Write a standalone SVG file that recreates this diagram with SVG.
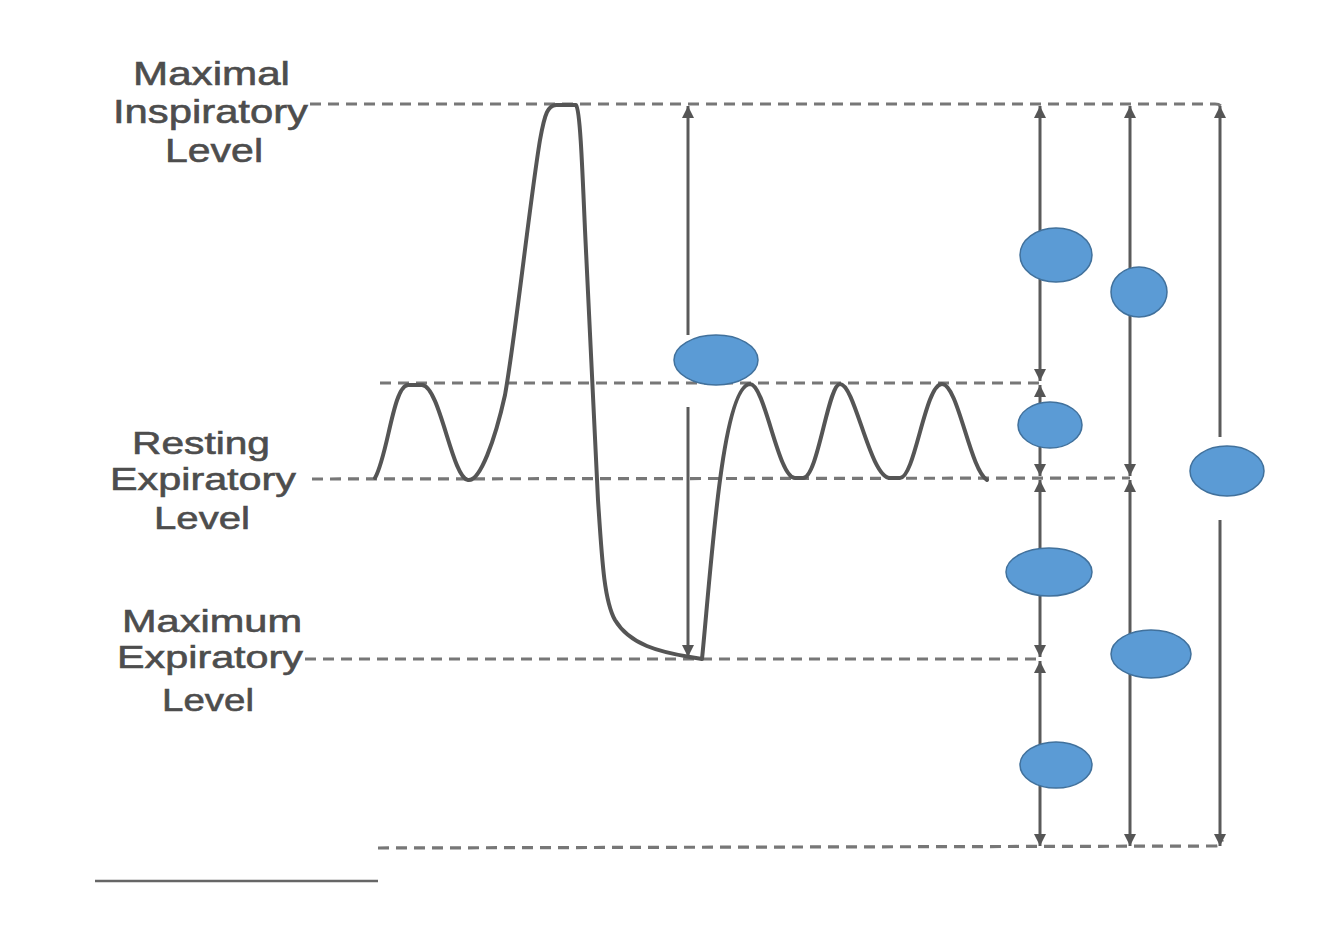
<svg xmlns="http://www.w3.org/2000/svg" width="1334" height="936" viewBox="0 0 1334 936">
<defs>
<marker id="ah" viewBox="0 0 10 10" refX="10" refY="5" markerWidth="13" markerHeight="12" markerUnits="userSpaceOnUse" orient="auto-start-reverse">
<path d="M0,0 L10,5 L0,10 z" fill="#555"/>
</marker>
<style>
.lbl{font-family:"Liberation Sans",Arial,sans-serif;fill:#4d4d4d;stroke:#4d4d4d;stroke-width:0.6}
.dash{stroke:#777;stroke-width:3.2;stroke-dasharray:11 7;fill:none}
.arr{stroke:#5a5a5a;stroke-width:3;fill:none;marker-end:url(#ah)}
.arr2{stroke:#5a5a5a;stroke-width:3;fill:none;marker-start:url(#ah);marker-end:url(#ah)}
.curve{stroke:#555;stroke-width:4;fill:none;stroke-linejoin:round;stroke-linecap:round}
.bub{fill:#5B9BD5;stroke:#41719C;stroke-width:1.5}
</style>
</defs>
<rect width="1334" height="936" fill="#fff"/>

<g id="labels">
<g id="mil-label" font-size="34">
<text class="lbl" x="133" y="85" textLength="157" lengthAdjust="spacingAndGlyphs">Maximal</text>
<text class="lbl" x="113" y="123" textLength="195" lengthAdjust="spacingAndGlyphs">Inspiratory</text>
<text class="lbl" x="165" y="162" textLength="98" lengthAdjust="spacingAndGlyphs">Level</text>
</g>
<g id="rel-label" font-size="32">
<text class="lbl" x="132" y="454" textLength="138" lengthAdjust="spacingAndGlyphs">Resting</text>
<text class="lbl" x="110" y="490" textLength="186" lengthAdjust="spacingAndGlyphs">Expiratory</text>
<text class="lbl" x="154" y="529" textLength="96" lengthAdjust="spacingAndGlyphs">Level</text>
</g>
<g id="mel-label" font-size="32">
<text class="lbl" x="122" y="632" textLength="180" lengthAdjust="spacingAndGlyphs">Maximum</text>
<text class="lbl" x="117" y="668" textLength="186" lengthAdjust="spacingAndGlyphs">Expiratory</text>
<text class="lbl" x="162" y="711" textLength="92" lengthAdjust="spacingAndGlyphs">Level</text>
</g>
</g>

<g id="levels">
<path class="dash" d="M310,104 L1215,104 Q1222,104 1222,110"/>
<path class="dash" d="M380,383 L1040,383"/>
<path class="dash" d="M312,479 L1130,478"/>
<path class="dash" d="M305,659 L1040,659"/>
<path class="dash" d="M378,848 L1215,846 Q1222,846 1222,840"/>
<path d="M95,881 L378,881" stroke="#666" stroke-width="2.5"/>
</g>

<g id="connectors">
<path class="arr" d="M688,335 L688,106"/>
<path class="arr" d="M688,407 L688,657"/>
<path class="arr2" d="M1040,106 L1040,381"/>
<path class="arr2" d="M1040,385 L1040,476"/>
<path class="arr2" d="M1040,480 L1040,657"/>
<path class="arr2" d="M1040,661 L1040,846"/>
<path class="arr2" d="M1130,106 L1130,476"/>
<path class="arr2" d="M1130,480 L1130,846"/>
<path class="arr" d="M1220,437 L1220,106"/>
<path class="arr" d="M1220,520 L1220,846"/>
</g>

<g id="spirogram">
<path class="curve" d="M375,478 C388,455 393,386 408,385 L422,385 C440,386 452,478 468,480 C480,482 495,440 505,395 C515,340 530,200 540,140 C545,112 548,106 556,105 L576,105 C580,110 582,160 585,230 C590,330 594,430 598,500 C602,560 604,600 615,620 C630,645 660,652 690,657 L702,659 C706,620 712,540 720,480 C728,420 738,385 750,384 C765,384 778,478 795,478 L803,478 C818,478 828,384 840,384 C855,384 870,478 890,478 L900,478 C915,478 925,384 942,384 C958,384 970,470 987,480"/>
</g>

<g id="bubbles">
<ellipse id="b1" class="bub" cx="716" cy="360" rx="42" ry="25"/>
<ellipse id="b2" class="bub" cx="1056" cy="255" rx="36" ry="27"/>
<ellipse id="b3" class="bub" cx="1139" cy="292" rx="28" ry="25"/>
<ellipse id="b4" class="bub" cx="1050" cy="425" rx="32" ry="23"/>
<ellipse id="b5" class="bub" cx="1227" cy="471" rx="37" ry="25"/>
<ellipse id="b6" class="bub" cx="1049" cy="572" rx="43" ry="24"/>
<ellipse id="b7" class="bub" cx="1151" cy="654" rx="40" ry="24"/>
<ellipse id="b8" class="bub" cx="1056" cy="765" rx="36" ry="23"/>
</g>
</svg>
